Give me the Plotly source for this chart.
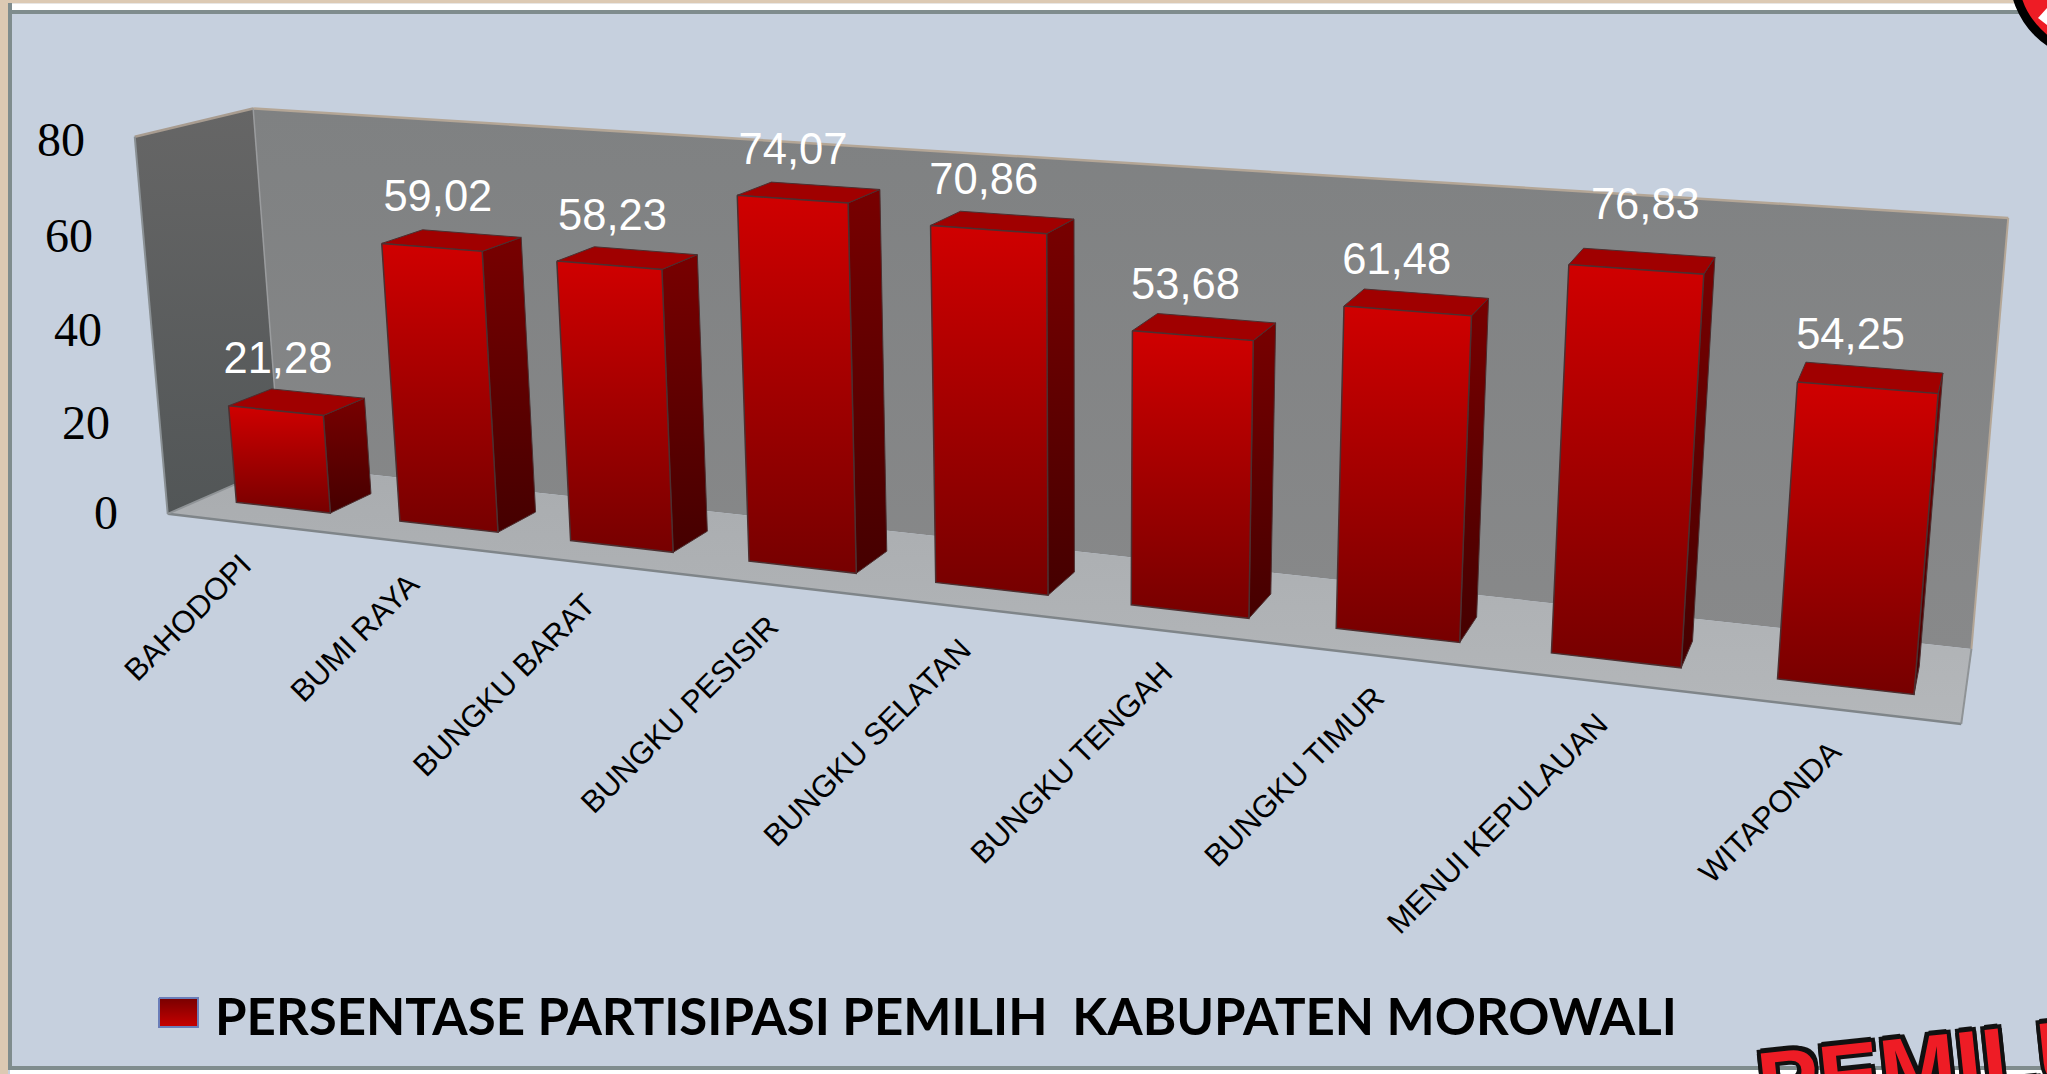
import numpy as np
import plotly.graph_objects as go

# ---------- data ----------
categories = ["BAHODOPI", "BUMI RAYA", "BUNGKU BARAT", "BUNGKU PESISIR", "BUNGKU SELATAN",
              "BUNGKU TENGAH", "BUNGKU TIMUR", "MENUI KEPULAUAN", "WITAPONDA"]
values = [21.28, 59.02, 58.23, 74.07, 70.86, 53.68, 61.48, 76.83, 54.25]
bar_heights = [21.28, 59.02, 58.23, 74.07, 70.86, 53.68, 61.48, 72.0, 54.25]  # as drawn
value_labels = ["21,28", "59,02", "58,23", "74,07", "70,86", "53,68", "61,48", "76,83", "54,25"]
label_dx = [1, 6, 5, 4, 1, 1, 0, 23, 0]
label_dy = [0, 0, 1, 1, 1, 1, 1, -13, 1]
y_ticks = [0, 20, 40, 60, 80]
legend_text = "PERSENTASE PARTISIPASI PEMILIH  KABUPATEN MOROWALI"

W, H = 2047, 1074
BG = "#C6D0DE"
GAP, Z0, Z1 = 0.21, 0.30, 0.68     # bar inset within its slot, bar depth range
N, YMAX = len(categories), 80

# ---------- perspective camera fitted to the picture (world -> screen) ----------
calibration = [
    ((0, 0, 0), (167, 513)), ((0, 80, 0), (135, 137)), ((0, 80, 1), (252, 109)), ((0, 0, 1), (279, 466)),
    ((9, 0, 1), (1971, 648)), ((9, 80, 1), (2008, 217)), ((9, 0, 0), (1960, 725)),
    ((GAP, 0, Z0), (235, 503)), ((1 - GAP, 0, Z0), (330, 513)), ((1 - GAP, 0, Z1), (373, 493)),
    ((GAP, 21.28, Z0), (231, 407)), ((1 - GAP, 21.28, Z0), (322, 415)), ((1 - GAP, 21.28, Z1), (367, 397)),
    ((4 + GAP, 0, Z0), (935, 582)), ((5 - GAP, 0, Z0), (1047, 595)),
    ((4 + GAP, 70.86, Z0), (931, 226)), ((5 - GAP, 70.86, Z0), (1046, 232)), ((5 - GAP, 70.86, Z1), (1074, 218)),
    ((8 + GAP, 0, Z0), (1779, 679)), ((9 - GAP, 0, Z0), (1915, 694)),
    ((8 + GAP, 54.25, Z0), (1801, 382)), ((9 - GAP, 54.25, Z0), (1935, 394)), ((9 - GAP, 54.25, Z1), (1943, 376)),
]


def fit_camera(pairs):
    rows = []
    for (X, Y, Z), (u, v) in pairs:
        p = np.array([X / 9, Y / 80, Z, 1.0])
        u, v = u / 2000, v / 2000
        rows.append(np.r_[p, 0 * p, -u * p])
        rows.append(np.r_[0 * p, p, -v * p])
    return np.linalg.svd(np.array(rows))[2][-1].reshape(3, 4)


CAM = fit_camera(calibration)


def proj(X, Y, Z):
    h = CAM @ np.array([X / 9, Y / 80, Z, 1.0])
    return 2000 * h[0] / h[2], 2000 * h[1] / h[2]


fig = go.Figure()


def face(pts, fill=None, grad=None, line=None, lw=0):
    """grad = (top colour, bottom colour)"""
    xs = [p[0] for p in pts] + [pts[0][0]]
    ys = [p[1] for p in pts] + [pts[0][1]]
    kw = dict(x=xs, y=ys, mode="lines", fill="toself", hoverinfo="skip", showlegend=False,
              line=dict(color=line or "rgba(0,0,0,0)", width=lw))
    if grad:
        kw["fillgradient"] = dict(type="vertical", colorscale=[[0, grad[1]], [1, grad[0]]])
    else:
        kw["fillcolor"] = fill
    fig.add_trace(go.Scatter(**kw))


def edge(a, b, color, w):
    fig.add_trace(go.Scatter(x=[a[0], b[0]], y=[a[1], b[1]], mode="lines", hoverinfo="skip",
                             showlegend=False, line=dict(color=color, width=w)))


# ---------- walls and floor ----------
face([proj(0, YMAX, 1), proj(N, YMAX, 1), proj(N, 0, 1), proj(0, 0, 1)], grad=("#7F8182", "#88898A"))
face([proj(0, YMAX, 0), proj(0, YMAX, 1), proj(0, 0, 1), proj(0, 0, 0)], grad=("#666666", "#525657"))
face([proj(0, 0, 1), proj(N, 0, 1), proj(N, 0, 0), proj(0, 0, 0)], grad=("#A9ACAF", "#B4B7BA"))
edge(proj(0, YMAX, 1), proj(N, YMAX, 1), "#B4A696", 2.5)
edge(proj(N, YMAX, 1), proj(N, 0, 1), "#B4A696", 2)
edge(proj(0, YMAX, 0), proj(0, YMAX, 1), "#A89C90", 2.5)
edge(proj(0, YMAX, 0), proj(0, 0, 0), "#8A9094", 2)
edge(proj(0, YMAX, 1), proj(0, 0, 1), "#9A9C9E", 1.5)
edge(proj(0, 0, 0), proj(N, 0, 0), "#7F8589", 2.5)
edge(proj(N, 0, 0), proj(N, 0, 1), "#8F9396", 2)
edge(proj(0, 0, 0), proj(0, 0, 1), "#8F9396", 2)

# ---------- bars ----------
EDGE = "#4C2F30"
for i, v in enumerate(bar_heights):
    x0, x1 = i + GAP, i + 1 - GAP
    face([proj(x1, v, Z0), proj(x1, v, Z1), proj(x1, 0, Z1), proj(x1, 0, Z0)],
         grad=("#780000", "#450000"), line=EDGE, lw=1)
    face([proj(x0, v, Z0), proj(x1, v, Z0), proj(x1, v, Z1), proj(x0, v, Z1)],
         fill="#A00000", line=EDGE, lw=1)
    face([proj(x0, v, Z0), proj(x1, v, Z0), proj(x1, 0, Z0), proj(x0, 0, Z0)],
         grad=("#D00000", "#760000"), line=EDGE, lw=1.5)

# ---------- value labels ----------
LABEL_LIFT = 40
tops = [proj(i + 0.5, v, (Z0 + Z1) / 2) for i, v in enumerate(bar_heights)]
fig.add_trace(go.Scatter(x=[t[0] - 20 + dx for t, dx in zip(tops, label_dx)],
                         y=[t[1] - LABEL_LIFT + dy for t, dy in zip(tops, label_dy)], mode="text",
                         text=value_labels, hoverinfo="skip", showlegend=False,
                         textfont=dict(family="Liberation Sans", size=43.5, color="white")))

# legend swatch
face([(159, 998), (198, 998), (198, 1027), (159, 1027)], grad=("#780000", "#C80000"), line="#6A7DB8", lw=2)

annotations = []
# value axis labels
for t in y_ticks:
    px, py = proj(0, t, 0)
    annotations.append(dict(x=px - 48, y=py + 3 - 4 * (1 - t / YMAX), text=str(t), showarrow=False,
                            xanchor="right", yanchor="middle",
                            font=dict(family="Liberation Serif", size=48, color="black")))
# category labels
for i, c in enumerate(categories):
    px, py = proj(i + 0.5, 0, 0)
    annotations.append(dict(x=px + 12, y=py + 21, text=c, showarrow=False, textangle=-45,
                            xanchor="right", yanchor="top",
                            font=dict(family="Liberation Sans", size=31, color="black")))
# legend text
annotations.append(dict(x=213, y=1015, text=legend_text.replace("  ", "&nbsp;&nbsp;"), showarrow=False, xanchor="left",
                        yanchor="middle", font=dict(family="Lato", size=51, color="black", weight=700)))
# PEMILU wordmark, cut by the page edge
annotations.append(dict(x=1750, y=996, text="PEMILU", showarrow=False, textangle=-6, xanchor="left", yanchor="top",
                        font=dict(family="Liberation Sans", size=92, color="#EE1C25", weight=900,
                                  shadow="4px 0 0 #111, -4px 0 0 #111, 0 4px 0 #111, 0 -5px 0 #111, 4px -4px 0 #111, -4px -4px 0 #111")))

shapes = [
    # page frame
    dict(type="rect", x0=0, x1=W, y0=0, y1=3.5, fillcolor="#DCC9B3", line_width=0),
    dict(type="rect", x0=10, x1=W, y0=3.5, y1=10, fillcolor="white", line_width=0),
    dict(type="rect", x0=8, x1=W, y0=10, y1=14, fillcolor="#7F8C8D", line_width=0),
    dict(type="rect", x0=0, x1=8, y0=0, y1=H, fillcolor="#DCC9B3", line_width=0),
    dict(type="rect", x0=8, x1=12, y0=3, y1=1070, fillcolor="#7F8C8D", line_width=0),
    dict(type="rect", x0=8, x1=W, y0=1066, y1=1070, fillcolor="#7F8C8D", line_width=0),
    dict(type="rect", x0=10, x1=W, y0=1070, y1=H, fillcolor="white", line_width=0),
    # logo corner
    dict(type="circle", x0=2014, x1=2176, y0=-106, y1=56, fillcolor="#EE1C25", line=dict(color="black", width=9)),
    dict(type="path", path="M 2038 18 L 2047 8 L 2047 25 Z", fillcolor="white", line_width=0),
]

fig.update_layout(
    width=W, height=H, margin=dict(l=0, r=0, t=0, b=0), paper_bgcolor=BG, plot_bgcolor=BG,
    xaxis=dict(range=[0, W], visible=False, fixedrange=True),
    yaxis=dict(range=[H, 0], visible=False, fixedrange=True),
    showlegend=False, annotations=annotations, shapes=shapes,
)
fig.write_html("out.html", config={"displayModeBar": False},
               post_script="document.body.style.margin='0';document.body.style.overflow='hidden';")
